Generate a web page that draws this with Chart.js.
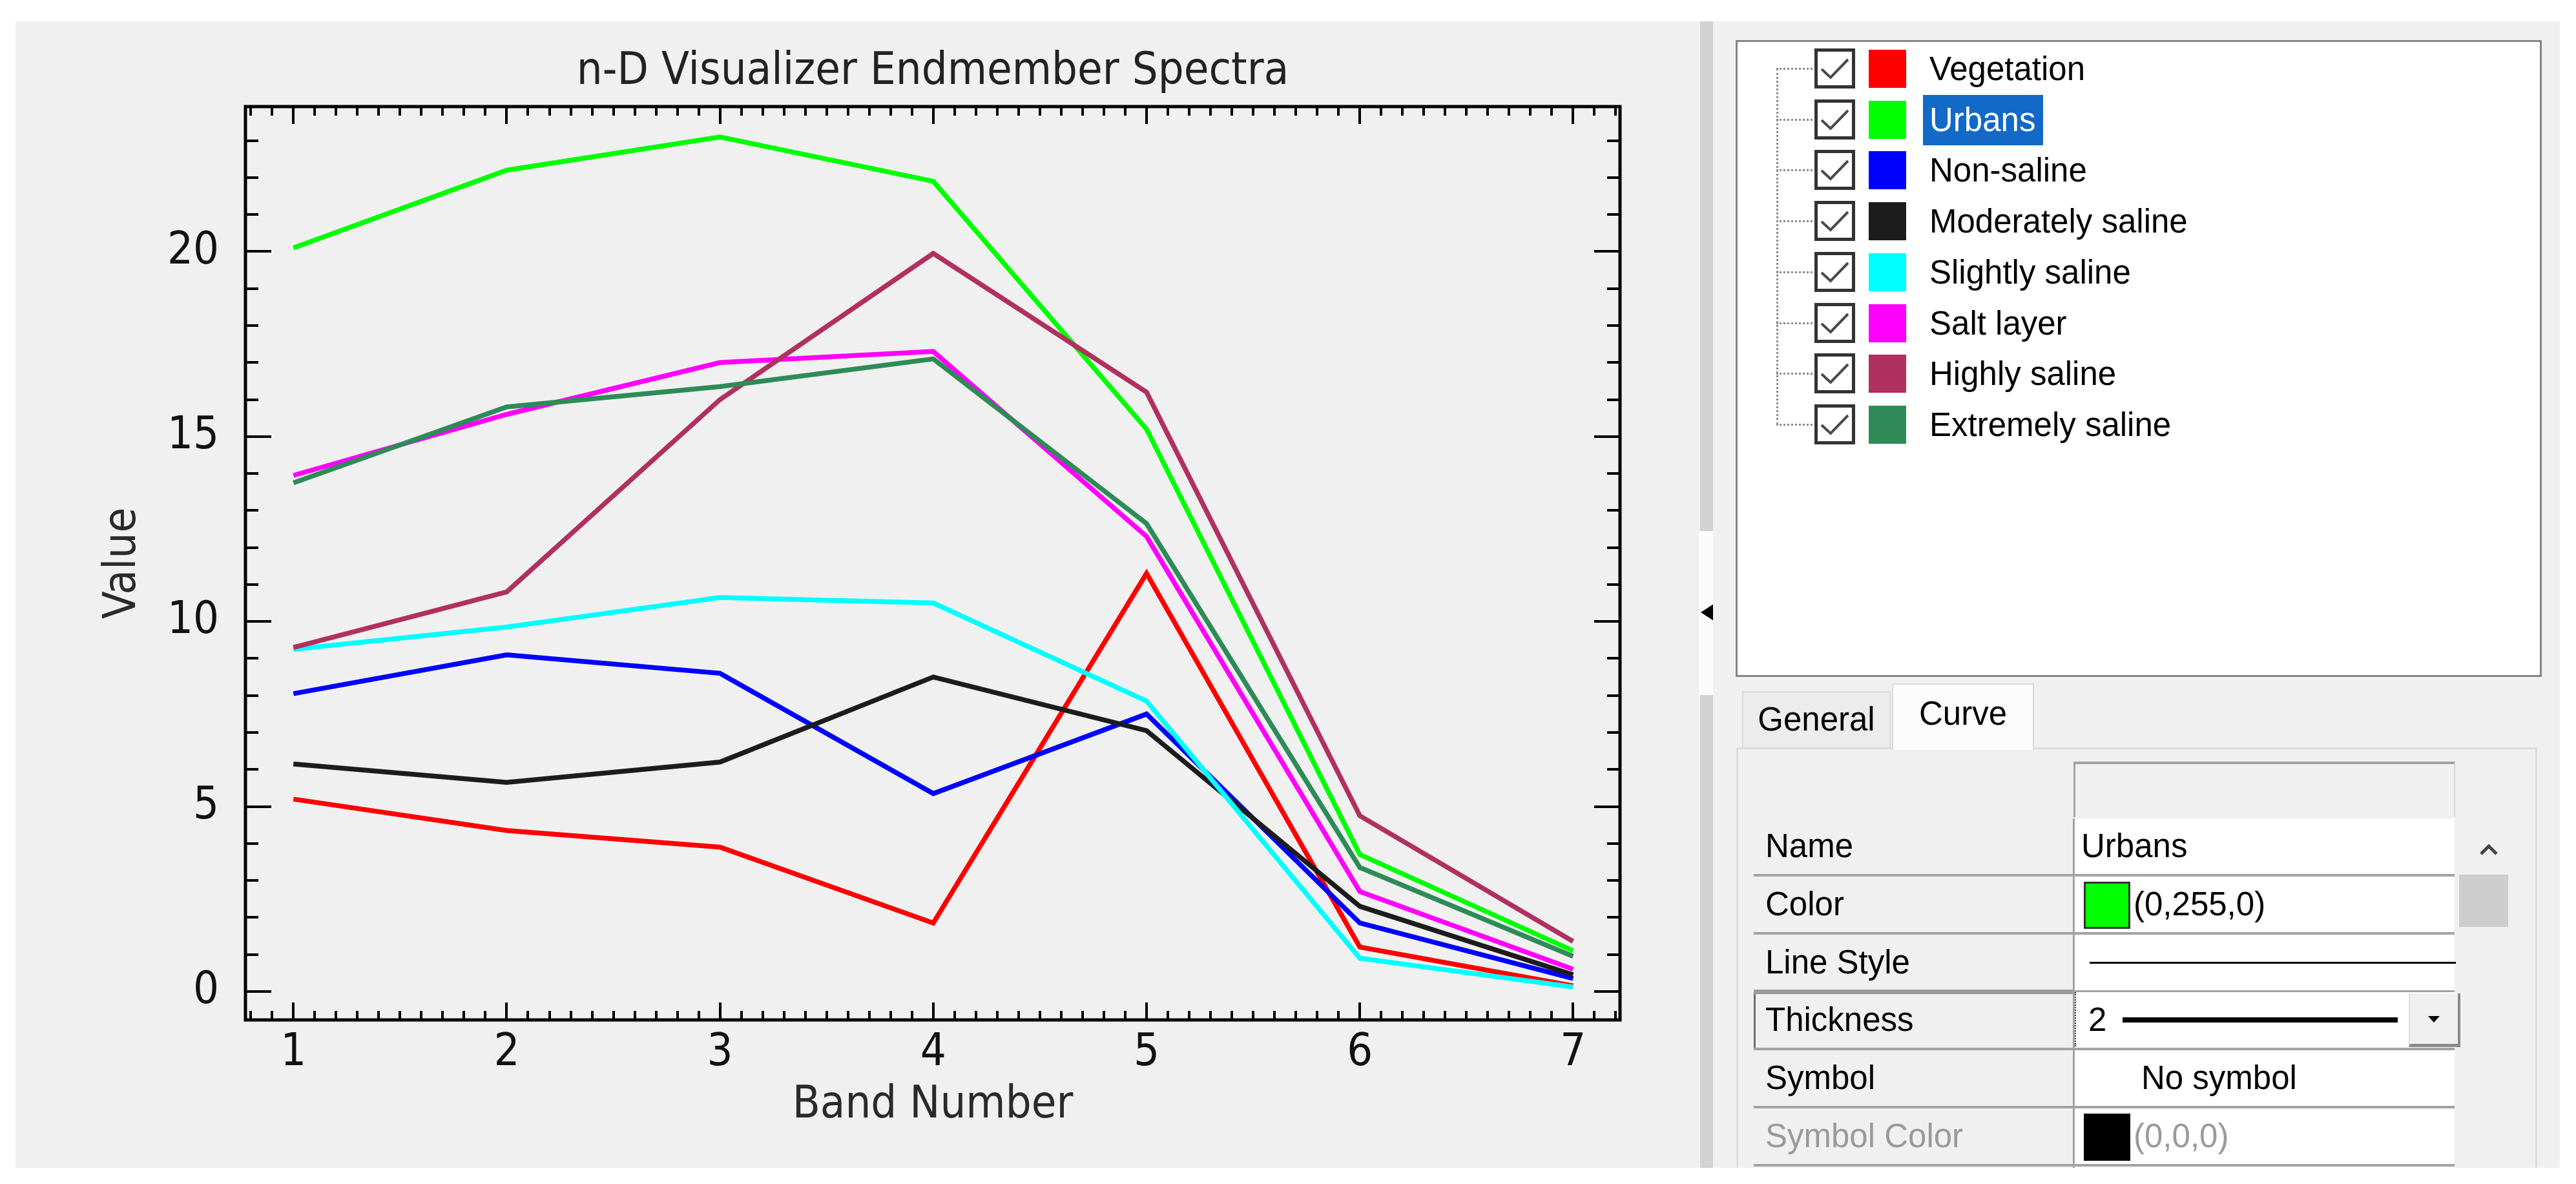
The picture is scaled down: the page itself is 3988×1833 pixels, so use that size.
<!DOCTYPE html>
<html>
<head>
<meta charset="utf-8">
<title>n-D Visualizer Endmember Spectra</title>
<script src="https://cdn.jsdelivr.net/npm/chart.js@4.4.0/dist/chart.umd.min.js"></script>
<style>
    body { margin: 0; width: 3988px; height: 1833px; background: #fff; position: relative; overflow: hidden;
           font-family: "Liberation Sans", Arial, sans-serif; }
    .abs { position: absolute; box-sizing: border-box; }
    #leftPane { left: 24px; top: 33px; width: 2608px; height: 1775px; background: #f0f0f0; }
    #chartBox { position: absolute; left: 0; top: 0; width: 2640px; height: 1833px; }
    #splitter { left: 2632px; top: 33px; width: 20px; height: 1775px; background: #d2d2d2; }
    #handle { left: 2630px; top: 822px; width: 26px; height: 254px; background: #fbfbfb; }
    #handle div { position: absolute; left: 3px; top: 113px; width: 0; height: 0;
                  border-top: 13px solid transparent; border-bottom: 13px solid transparent; border-right: 20px solid #000; }
    #rightPane { left: 2652px; top: 33px; width: 1311px; height: 1775px; background: #f0f0f0; overflow: hidden; }
    #listBox { left: 35px; top: 29px; width: 1248px; height: 986px; background: #fff; border: 3px solid #858585; }
    .dotV { border-left: 3px dotted #8a8a8a; }
    .dotH { border-top: 3px dotted #8a8a8a; }
    .check { width: 63px; height: 62px; border: 5px solid #333; background: #fff; }
    .swatch { width: 58px; height: 59px; }
    .label { height: 78px; line-height: 78px; font-size: 51px; padding: 0 12px 0 10px; color: #000; white-space: nowrap; }
    .label.sel { background: #1269c7; color: #fff; }
    .tab { font-size: 51px; text-align: center; color: #000; }
    #tabGeneral { left: 45px; top: 1037px; width: 230px; height: 87px; line-height: 84px; background: #ececec;
                  border: 2px solid #dadada; border-bottom: none; }
    #tabCurve { left: 277px; top: 1025px; width: 220px; height: 103px; line-height: 90px; background: #fcfcfc;
                border: 2px solid #dadada; border-bottom: none; z-index: 2; }
    #tabPanel { left: 36px; top: 1124px; width: 1240px; height: 720px; border: 3px solid #dcdcdc; background: #f0f0f0; }
    .cellL { background: #f0f0f0; font-size: 51px; color: #000; padding-left: 18px; white-space: nowrap; }
    .cellV { background: #fff; font-size: 51px; color: #000; white-space: nowrap; }
    .sep { background: #a3a3a3; height: 4px; }
</style>
</head>
<body>
<div id="leftPane" class="abs"></div>
<div id="chartBox"><canvas id="spectra" width="2640" height="1833"></canvas></div>
<div id="splitter" class="abs"></div>
<div id="handle" class="abs"><div></div></div>
<div id="rightPane" class="abs">
    <div id="listBox" class="abs"></div>
    <div id="tabGeneral" class="abs tab">General</div>
    <div id="tabCurve" class="abs tab">Curve</div>
    <div id="tabPanel" class="abs"></div>
</div>
<script>
// band axis and tick values
const bandNumbers = [1, 2, 3, 4, 5, 6, 7];
const valueTicks = [0, 5, 10, 15, 20];

// endmember curves
const seriesNames = ['Vegetation', 'Urbans', 'Non-saline', 'Moderately saline',
    'Slightly saline', 'Salt layer', 'Highly saline', 'Extremely saline'];
const seriesColors = ['#ff0000', '#00ff00', '#0000ff', '#1c1c1c',
    '#00ffff', '#ff00ff', '#b03060', '#2e8b57'];

const vegetation       = [5.2, 4.35, 3.9, 1.85, 11.3, 1.2, 0.15];
const urbans           = [20.1, 22.2, 23.1, 21.9, 15.2, 3.7, 1.1];
const nonSaline        = [8.05, 9.1, 8.6, 5.35, 7.5, 1.85, 0.35];
const moderatelySaline = [6.15, 5.65, 6.2, 8.5, 7.05, 2.3, 0.45];
const slightlySaline   = [9.25, 9.85, 10.65, 10.5, 7.85, 0.9, 0.12];
const saltLayer        = [13.95, 15.6, 17.0, 17.3, 12.3, 2.7, 0.6];
const highlySaline     = [9.3, 10.8, 16.0, 19.95, 16.2, 4.75, 1.35];
const extremelySaline  = [13.75, 15.8, 16.35, 17.1, 12.65, 3.35, 0.95];

const seriesValues = [vegetation, urbans, nonSaline, moderatelySaline,
    slightlySaline, saltLayer, highlySaline, extremelySaline];

const selectedCurve = 'Urbans';

// ---------- chart ----------
const FONT = '"DejaVu Sans Condensed", "DejaVu Sans", sans-serif';
const AREA = { left: 380, right: 2508, top: 165, bottom: 1579 };
const CANVAS_W = 2640, CANVAS_H = 1833;

// ENVI style frame with inward ticks on all four sides
const frameTicks = {
    id: 'frameTicks',
    afterDatasetsDraw(chart) {
        const { ctx, chartArea: a, scales: { x, y } } = chart;
        ctx.save();
        ctx.strokeStyle = '#000';
        ctx.lineWidth = 4;
        ctx.beginPath();
        for (let k = 8; k <= 72; k++) {
            const px = Math.round(x.getPixelForValue(k / 10));
            const len = k % 10 === 0 ? 27 : 14;
            ctx.moveTo(px, a.bottom); ctx.lineTo(px, a.bottom - len);
            ctx.moveTo(px, a.top); ctx.lineTo(px, a.top + len);
        }
        for (let v = 0; v <= 23; v++) {
            const py = Math.round(y.getPixelForValue(v));
            const len = v % 5 === 0 ? 40 : 20;
            ctx.moveTo(a.left, py); ctx.lineTo(a.left + len, py);
            ctx.moveTo(a.right, py); ctx.lineTo(a.right - len, py);
        }
        ctx.stroke();
        ctx.lineWidth = 5;
        ctx.strokeRect(a.left, a.top, a.right - a.left, a.bottom - a.top);
        ctx.restore();
    }
};

const datasets = seriesNames.map((name, i) => ({
    label: name,
    data: bandNumbers.map((b, j) => ({ x: b, y: seriesValues[i][j] })),
    borderColor: seriesColors[i],
    borderWidth: 7.5,
    pointRadius: 0,
    fill: false,
    tension: 0,
    order: seriesNames.length - i   // later curves drawn on top
}));

new Chart(document.getElementById('spectra'), {
    type: 'line',
    data: { datasets },
    plugins: [frameTicks],
    options: {
        responsive: false,
        devicePixelRatio: 1,
        animation: false,
        events: [],
        layout: { padding: { left: 0, top: 0, right: CANVAS_W - AREA.right, bottom: 0 } },
        plugins: {
            legend: { display: false },
            tooltip: { enabled: false },
            title: {
                display: true,
                fullSize: false,
                text: 'n-D Visualizer Endmember Spectra',
                color: '#222',
                font: { family: FONT, size: 70, weight: 'normal' },
                padding: { top: 70, bottom: 11 }
            }
        },
        scales: {
            x: {
                type: 'linear',
                min: 0.775,
                max: 7.22,
                grid: { display: false, drawTicks: false },
                border: { display: false },
                afterBuildTicks: s => { s.ticks = bandNumbers.map(v => ({ value: v })); },
                afterFit: s => { s.height = CANVAS_H - AREA.bottom; },
                ticks: {
                    autoSkip: false, maxRotation: 0, padding: 10,
                    color: '#111',
                    font: { family: FONT, size: 70 }
                },
                title: {
                    display: true, text: 'Band Number', color: '#2a2a2a',
                    font: { family: FONT, size: 70 },
                    padding: { top: 0, bottom: 79 }
                }
            },
            y: {
                min: -0.77,
                max: 23.92,
                grid: { display: false, drawTicks: false },
                border: { display: false },
                afterBuildTicks: s => { s.ticks = valueTicks.map(v => ({ value: v })); },
                afterFit: s => { s.width = AREA.left; },
                ticks: {
                    autoSkip: false, padding: 41,
                    color: '#111',
                    font: { family: FONT, size: 70 }
                },
                title: {
                    display: true, text: 'Value', color: '#2a2a2a',
                    font: { family: FONT, size: 70 },
                    padding: { top: 149, bottom: 0 }
                }
            }
        }
    }
});

// ---------- side panel (tree list + curve properties) ----------
const pane = document.getElementById('rightPane');

function box(cls, left, top, width, height, extra) {
    const d = document.createElement('div');
    d.className = 'abs ' + cls;
    d.style.left = left + 'px';
    d.style.top = top + 'px';
    if (width != null) d.style.width = width + 'px';
    if (height != null) d.style.height = height + 'px';
    if (extra) Object.assign(d.style, extra);
    pane.appendChild(d);
    return d;
}

const rowTop = 73, rowStep = 78.7;
box('dotV', 98, rowTop, 3, rowStep * (seriesNames.length - 1));
seriesNames.forEach((name, i) => {
    const c = Math.round(rowTop + i * rowStep);
    box('dotH', 98, c - 1, 56, 3);
    const chk = box('check', 157, c - 31, null, null);
    chk.innerHTML = '<svg width="53" height="52" style="position:absolute;left:0;top:0">' +
        '<polyline points="6,27 20,40 47,12" fill="none" stroke="#4a4a4a" stroke-width="4"/></svg>';
    box('swatch', 241, c - 29, null, null, { background: seriesColors[i] });
    const lbl = box('label' + (name === selectedCurve ? ' sel' : ''), 325, c - 38, null, null);
    lbl.textContent = name;
});

// property grid
const gridL = 63, gridMid = 557, gridR = 1148;
box('', gridMid + 1, 1146, gridR - gridMid, 86,
    { background: '#f0f0f0', borderTop: '4px solid #a3a3a3', borderLeft: '3px solid #a3a3a3', borderRight: '2px solid #d6d6d6' });

const propRows = ['Name', 'Color', 'Line Style', 'Thickness', 'Symbol', 'Symbol Color', ''];
const propTop = 1234, propStep = 89.8;
propRows.forEach((label, i) => {
    const t = Math.round(propTop + i * propStep);
    const h = Math.round(propStep) - 4;
    const l = box('cellL', gridL, t, gridMid - gridL, h, { lineHeight: h + 'px' });
    l.textContent = label;
    if (label === 'Symbol Color') l.style.color = '#9a9a9a';
    if (label === 'Thickness') { l.style.borderLeft = '3px solid #707070'; l.style.paddingLeft = '15px'; }
    box('cellV', gridMid + 3, t, gridR - gridMid - 3, h, { lineHeight: h + 'px' });
    box('sep', gridL, t + h, gridR - gridL, 4);
});
box('', gridMid, propTop, 3, 700, { background: '#a3a3a3' });
box('', gridL, propTop + Math.round(3 * propStep) - 4, gridMid - gridL, 7, { background: '#9a9a9a' });

function rowY(i) { return Math.round(propTop + i * propStep); }
function text(s, left, i, extra) {
    const d = box('cellV', left, rowY(i), null, Math.round(propStep) - 4,
        Object.assign({ lineHeight: (Math.round(propStep) - 4) + 'px', background: 'transparent' }, extra || {}));
    d.textContent = s;
    return d;
}
text(selectedCurve, 570, 0);
box('', 574, rowY(1) + 8, 72, 73, { background: seriesColors[seriesNames.indexOf(selectedCurve)], border: '3px solid #333' });
text('(0,255,0)', 651, 1);
box('', 583, rowY(2) + 42, 567, 3, { background: '#000' });
box('', 560, rowY(3), 2, 84, { borderLeft: '2px dotted #333' });
text('2', 581, 3);
box('', 634, rowY(3) + 39, 426, 8, { background: '#000' });
const dd = box('', 1077, rowY(3) + 2, 80, 83, { background: '#f0f0f0', borderRight: '4px solid #8a8a8a', borderBottom: '5px solid #8a8a8a', borderLeft: '2px solid #e0e0e0' });
dd.innerHTML = '<div style="position:absolute;left:28px;top:35px;width:0;height:0;border-left:9px solid transparent;border-right:9px solid transparent;border-top:10px solid #000"></div>';
text('No symbol', 663, 4);
box('', 574, rowY(5) + 8, 72, 73, { background: '#000' });
text('(0,0,0)', 651, 5, { color: '#9a9a9a' });

// scrollbar of the property grid
box('', 1155, 1321, 76, 81, { background: '#cdcdcd' });
const up = box('', 1186, 1272, 30, 20, {});
up.innerHTML = '<svg width="30" height="20"><polyline points="3,17 15,5 27,17" fill="none" stroke="#444" stroke-width="5"/></svg>';
</script>
</body>
</html>
